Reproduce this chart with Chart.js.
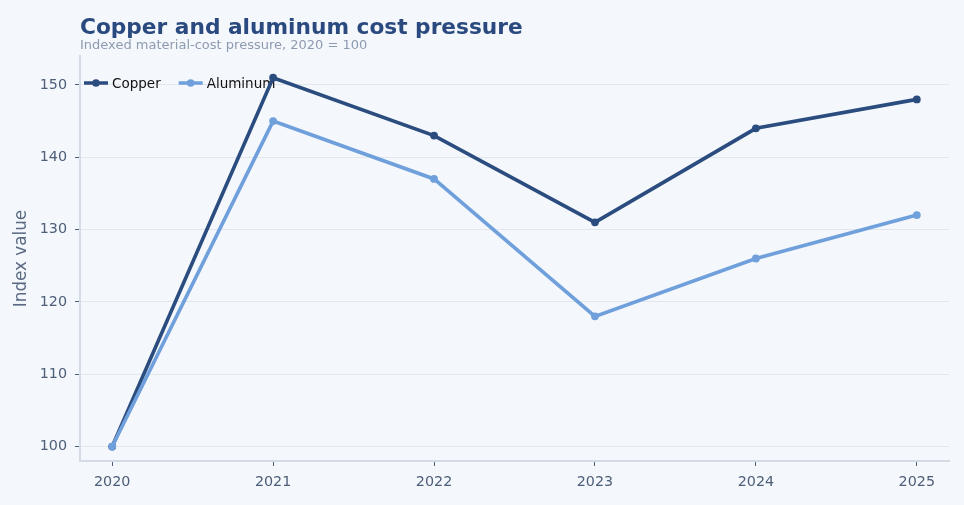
<!DOCTYPE html>
<html>
<head>
<meta charset="utf-8">
<script src="https://cdn.jsdelivr.net/npm/chart.js@4"></script>
<style>
  html, body { margin: 0; padding: 0; background: #f4f7fc; }
  #wrap { width: 964px; height: 505px; position: relative; }
</style>
</head>
<body>
<div id="wrap"><canvas id="costChart"></canvas></div>
<script>
// Chart data
const years = [2020, 2021, 2022, 2023, 2024, 2025];
const copper = [100, 151, 143, 131, 144, 148];
const aluminum = [100, 145, 137, 118, 126, 132];
const seriesNames = ["Copper", "Aluminum"];
const seriesColors = ["#2b4c7e", "#6fa0dc"];
const yTicks = [100, 110, 120, 130, 140, 150];

const titleText = "Copper and aluminum cost pressure";
const subtitleText = "Indexed material-cost pressure, 2020 = 100";

const tickColor = "#4d5e78";
const gridColor = "#e2e7ee";
const spineColor = "#d3dbe6";

// Title, subtitle and in-plot legend
const decorations = {
  id: "decorations",
  beforeDatasetsDraw(chart) {
    const { ctx, chartArea } = chart;
    ctx.save();
    ctx.textBaseline = "alphabetic";
    ctx.textAlign = "left";
    ctx.fillStyle = "#2a4a7f";
    ctx.font = "bold 21.7px 'DejaVu Sans'";
    ctx.fillText(titleText, chartArea.left, 34);
    ctx.fillStyle = "#8d9bb0";
    ctx.font = "13px 'DejaVu Sans'";
    ctx.fillText(subtitleText, chartArea.left, 49);

    // legend: line + dot + label
    let x = chartArea.left + 4;
    const y = 83;
    ctx.font = "13.5px 'DejaVu Sans'";
    seriesNames.forEach((name, i) => {
      ctx.strokeStyle = seriesColors[i];
      ctx.lineWidth = 3.5;
      ctx.beginPath();
      ctx.moveTo(x, y);
      ctx.lineTo(x + 24, y);
      ctx.stroke();
      ctx.fillStyle = seriesColors[i];
      ctx.beginPath();
      ctx.arc(x + 12, y, 3.8, 0, Math.PI * 2);
      ctx.fill();
      ctx.fillStyle = "#111111";
      ctx.textBaseline = "middle";
      ctx.fillText(name, x + 28, y + 1);
      x += 28 + ctx.measureText(name).width + 18;
    });
    ctx.restore();
  },
};

const ctx = document.getElementById("costChart").getContext("2d");

new Chart(ctx, {
  type: "line",
  data: {
    datasets: [copper, aluminum].map((values, i) => ({
      label: seriesNames[i],
      data: years.map((yr, j) => ({ x: yr, y: values[j] })),
      borderColor: seriesColors[i],
      backgroundColor: seriesColors[i],
      borderWidth: 3.6,
      pointRadius: 3.9,
      pointHoverRadius: 3.9,
      pointBorderWidth: 0,
      tension: 0,
      fill: false,
      order: i === 0 ? 1 : 0,
    })),
  },
  options: {
    responsive: true,
    maintainAspectRatio: false,
    animation: false,
    layout: { padding: { top: 56, right: 15, bottom: 0, left: 0 } },
    plugins: {
      legend: { display: false },
      title: { display: false },
      tooltip: { enabled: false },
    },
    scales: {
      x: {
        type: "linear",
        min: 2019.8,
        max: 2025.2,
        afterFit: (scale) => { scale.height = 44; },
        afterBuildTicks: (scale) => {
          scale.ticks = years.map((v) => ({ value: v }));
        },
        ticks: {
          color: tickColor,
          font: { family: "DejaVu Sans", size: 14.3 },
          padding: 8,
          maxRotation: 0,
          callback: (v) => String(v),
        },
        grid: {
          drawOnChartArea: false,
          tickLength: 5,
          tickColor: tickColor,
          tickWidth: 1,
        },
        border: { color: spineColor, width: 2 },
      },
      y: {
        min: 98,
        max: 154,
        afterFit: (scale) => { scale.width = 80; },
        afterBuildTicks: (scale) => {
          scale.ticks = yTicks.map((v) => ({ value: v }));
        },
        ticks: {
          color: tickColor,
          font: { family: "DejaVu Sans", size: 14.3 },
          padding: 8,
          callback: (v) => String(v),
        },
        grid: {
          color: gridColor,
          lineWidth: 1,
          tickLength: 5,
          tickColor: tickColor,
          tickWidth: 1,
        },
        border: { color: spineColor, width: 2 },
        title: {
          display: true,
          text: "Index value",
          color: "#5a6a82",
          font: { family: "DejaVu Sans", size: 16.8 },
          padding: { top: 12, bottom: 0 },
        },
      },
    },
  },
  plugins: [decorations],
});
</script>
</body>
</html>
